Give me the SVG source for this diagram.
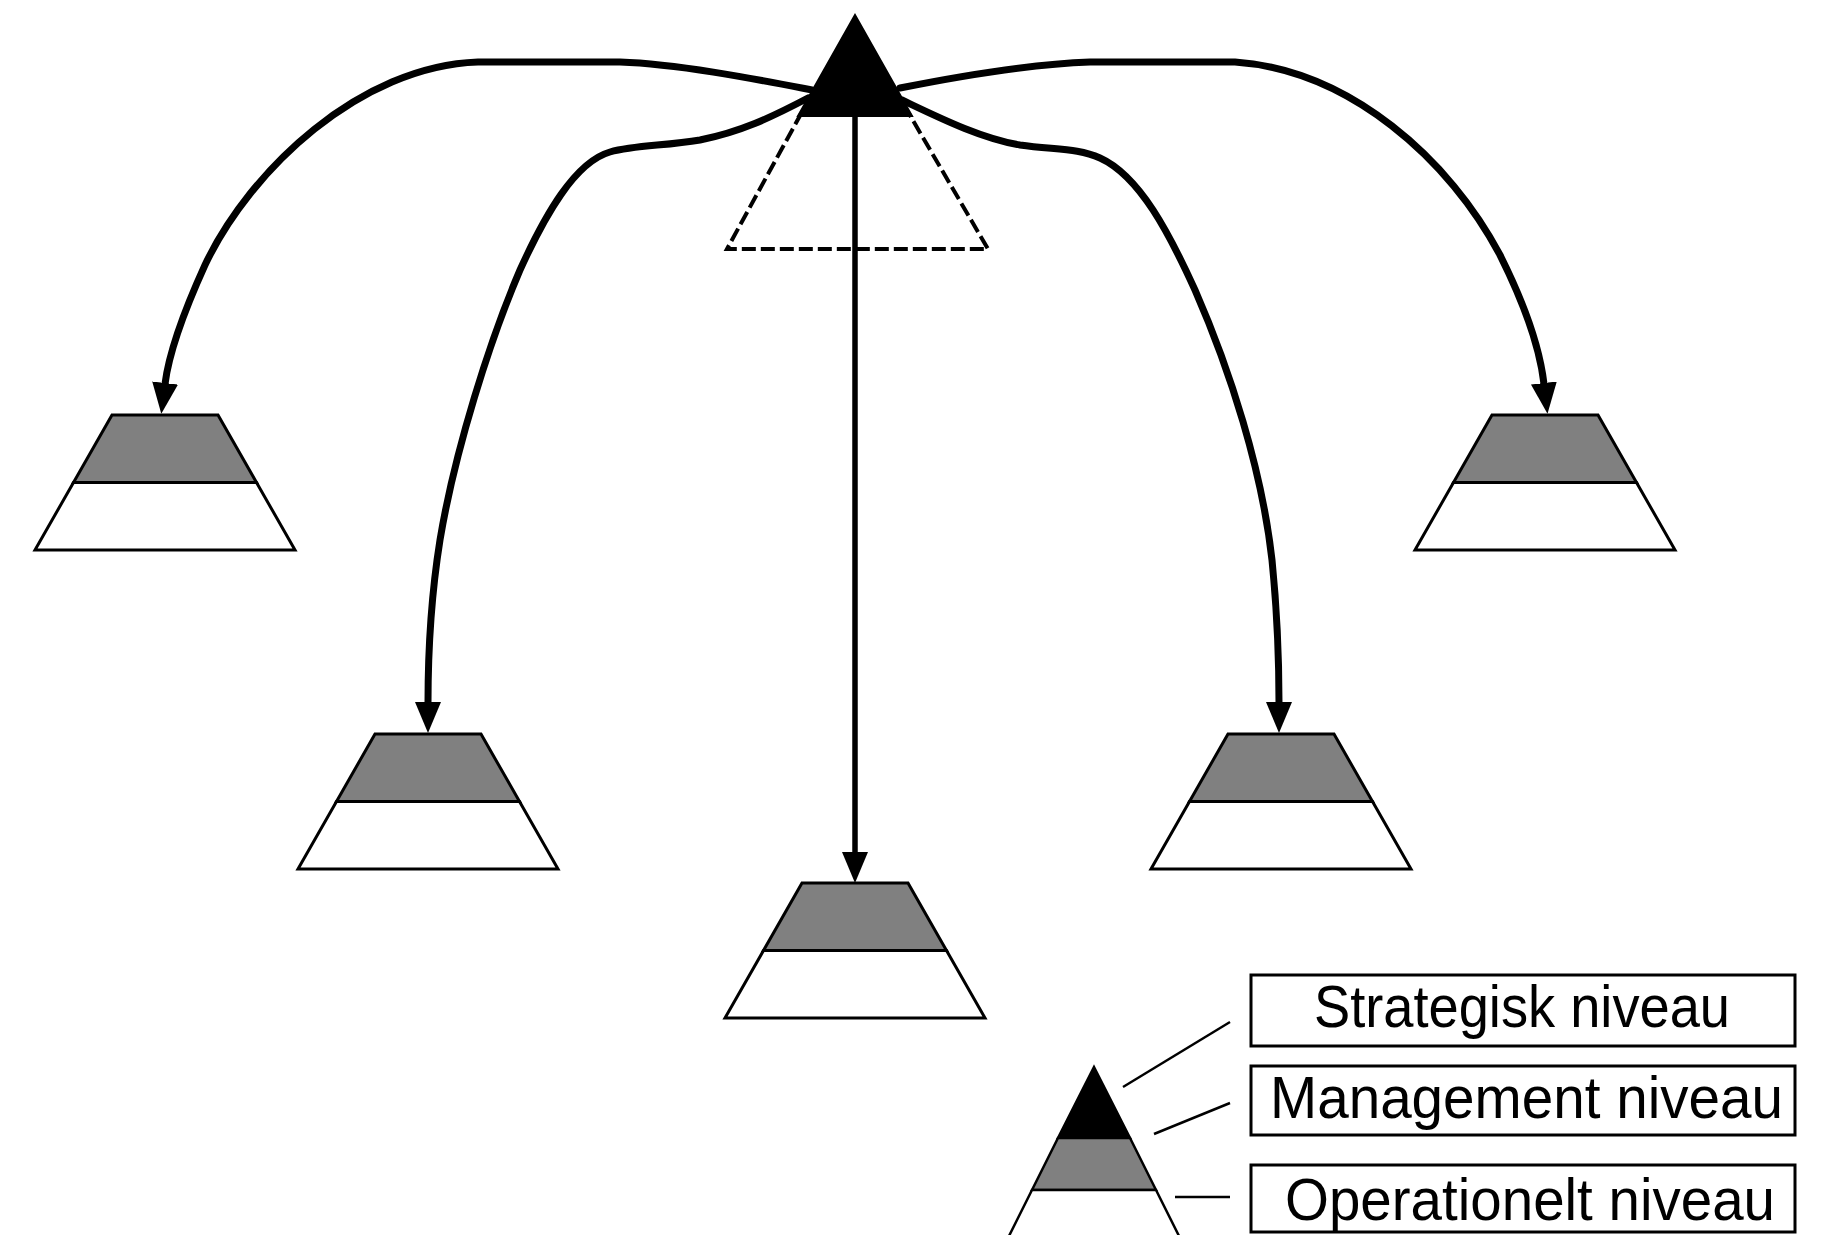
<svg xmlns="http://www.w3.org/2000/svg" width="1821" height="1235" viewBox="0 0 1821 1235">
<style>
.trap{stroke:#000;stroke-width:3;stroke-linejoin:miter}
.grey{fill:#808080}
.white{fill:#fff}
.conn{fill:none;stroke:#000;stroke-width:7;stroke-linecap:round;stroke-linejoin:round}
.dash{fill:none;stroke:#000;stroke-width:4;stroke-dasharray:14 5}
.box{fill:#fff;stroke:#000;stroke-width:3}
.lbl{font-family:"Liberation Sans",Arial,sans-serif;font-size:60px;fill:#000}
.lead{stroke:#000;stroke-width:2.5;fill:none}
</style>
<defs>
<marker id="arr" markerUnits="userSpaceOnUse" markerWidth="32" markerHeight="28" viewBox="0 0 32 28" refX="1" refY="14" orient="auto">
<path d="M0,1 L31,14 L0,27 z" fill="#000"/>
</marker>
<g id="trap">
<polygon class="trap grey" points="-53,0 53,0 91.5,67.5 -91.5,67.5"/>
<polygon class="trap white" points="-91.5,67.5 91.5,67.5 130,135 -130,135"/>
</g>
</defs>
<rect width="1821" height="1235" fill="#fff"/>

<g id="hub">
<polyline class="dash" points="802,112 727,249 988,249 908,112"/>
<polygon points="855,15 798,116 912,116" fill="#000" stroke="#000" stroke-width="2"/>
</g>

<g id="connectors">
<path class="conn" marker-end="url(#arr)" d="M812,90 C760,80 680,64 620,62 L478,62 C360,66 250,170 205,265 C180,320 168,360 165,384"/>
<path class="conn" marker-end="url(#arr)" d="M808,98 C770,118 740,132 700,140 C665,146 635,145 610,152 C575,162 545,215 520,270 C490,340 455,450 440,540 C432,590 428,650 428,703"/>
<path class="conn" style="stroke-width:5.5" marker-end="url(#arr)" d="M855,112 L855,853"/>
<path class="conn" marker-end="url(#arr)" d="M902,100 C940,118 980,138 1020,145 C1055,150 1078,148 1100,158 C1140,176 1170,235 1195,290 C1230,370 1262,470 1272,560 C1277,610 1279,660 1279,703"/>
<path class="conn" marker-end="url(#arr)" d="M900,88 C960,76 1030,64 1090,62 L1235,62 C1350,70 1450,160 1500,255 C1525,305 1540,350 1544,384"/>
</g>

<g id="node-left"><use href="#trap" x="165" y="415"/></g>
<g id="node-leftmid"><use href="#trap" x="428" y="734"/></g>
<g id="node-center"><use href="#trap" x="855" y="883"/></g>
<g id="node-rightmid"><use href="#trap" x="1281" y="734"/></g>
<g id="node-right"><use href="#trap" x="1545" y="415"/></g>

<g id="legend">
<polygon points="1094,1067 1130,1138 1058,1138" fill="#000" stroke="#000" stroke-width="2.5"/>
<polygon points="1058,1138 1130,1138 1156,1190 1032,1190" fill="#808080" stroke="#000" stroke-width="2.5"/>
<polygon points="1032,1190 1156,1190 1182,1242 1006,1242" fill="#fff" stroke="#000" stroke-width="2.5"/>
<line class="lead" x1="1123" y1="1087" x2="1230" y2="1022"/>
<line class="lead" x1="1154" y1="1134" x2="1230" y2="1103"/>
<line class="lead" x1="1175" y1="1197" x2="1230" y2="1197"/>
<rect class="box" x="1251" y="975" width="544" height="71"/>
<rect class="box" x="1251" y="1066" width="544" height="69"/>
<rect class="box" x="1251" y="1165" width="544" height="67"/>
<text class="lbl" x="1314" y="1027" textLength="416" lengthAdjust="spacingAndGlyphs">Strategisk niveau</text>
<text class="lbl" x="1270" y="1118" textLength="513" lengthAdjust="spacingAndGlyphs">Management niveau</text>
<text class="lbl" x="1285" y="1220" textLength="490" lengthAdjust="spacingAndGlyphs">Operationelt niveau</text>
</g>
</svg>
